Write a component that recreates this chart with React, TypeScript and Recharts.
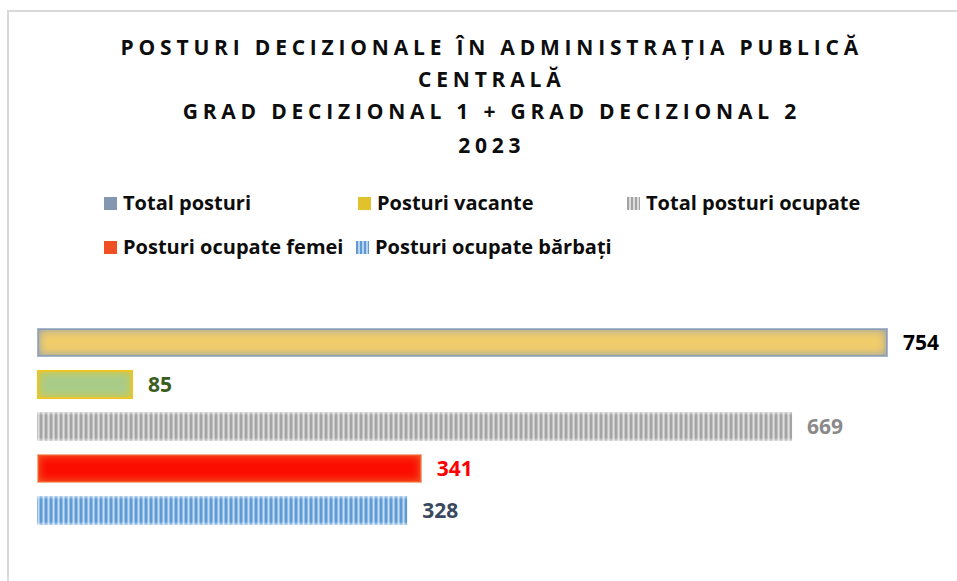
import { BarChart, Bar, XAxis, YAxis, LabelList } from "recharts";

const titleLines = [
  "POSTURI DECIZIONALE ÎN ADMINISTRAȚIA PUBLICĂ",
  "CENTRALĂ",
  "GRAD DECIZIONAL 1 + GRAD DECIZIONAL 2",
  "2023",
];
const categories = ["2023"];
const seriesKeys = ["total", "vacante", "ocupate", "femei", "barbati"];
const seriesNames = [
  "Total posturi",
  "Posturi vacante",
  "Total posturi ocupate",
  "Posturi ocupate femei",
  "Posturi ocupate bărbați",
];
const seriesValues = [754, 85, 669, 341, 328];

const data = categories.map((cat) => {
  const row: Record<string, string | number> = { cat };
  seriesKeys.forEach((k, i) => (row[k] = seriesValues[i]));
  return row;
});

const FONT = "'Open Sans', sans-serif";

// soft-edged bar, like Excel's glow fill
function GlowBar(props: any) {
  const { x, y, width, height, edge, core, stroke } = props;
  if (!width || width <= 0) return null;
  return (
    <g>
      <rect x={x} y={y} width={width} height={height} fill={edge} />
      <rect x={x + 2} y={y + 2} width={width - 4} height={height - 4} fill={core} filter="url(#softEdge)" />
      <rect x={x + 0.5} y={y + 0.5} width={width - 1} height={height - 1} fill="none" stroke={stroke} />
    </g>
  );
}

function StripeBar(props: any) {
  const { x, y, width, height, pattern } = props;
  if (!width || width <= 0) return null;
  return (
    <g>
      <rect x={x} y={y} width={width} height={height} fill={`url(#${pattern})`} />
      <rect x={x} y={y} width={width} height={height} fill="url(#edgeShine)" />
    </g>
  );
}

const styles = [
  { shape: (p: any) => <GlowBar {...p} edge="#8e9fb5" core="#f0cc6a" stroke="#a8b6c9" />, label: "#000000", swatch: "#8497b0" },
  { shape: (p: any) => <GlowBar {...p} edge="#e6c632" core="#a8cc88" stroke="#f0c41c" />, label: "#3b5e1e", swatch: "#e0c22c" },
  { shape: (p: any) => <StripeBar {...p} pattern="grayStripes" />, label: "#8a8a8a", swatch: "repeating-linear-gradient(90deg, #a3a3a3 0 2px, #dcdcdc 2px 4px)" },
  { shape: (p: any) => <GlowBar {...p} edge="#f25a28" core="#fb0a00" stroke="#f7b08f" />, label: "#ff0000", swatch: "#f04e23" },
  { shape: (p: any) => <StripeBar {...p} pattern="blueStripes" />, label: "#3a4a5e", swatch: "repeating-linear-gradient(90deg, #5d9ad6 0 2px, #b8d4ef 2px 4px)" },
];

const legendSpots = [
  { left: 104, top: 191 },
  { left: 358, top: 191 },
  { left: 627, top: 191 },
  { left: 104, top: 235 },
  { left: 356, top: 235 },
];

export default function App() {
  return (
    <div style={{ position: "absolute", left: 0, top: 0, width: 957, height: 581, overflow: "hidden", background: "#fff", fontFamily: FONT }}>
      <div style={{ position: "absolute", left: 7, top: 10, width: 1200, height: 1200, border: "2px solid #d9d9d9" }} />
      {titleLines.map((t, i) => (
        <div
          key={t}
          style={{
            position: "absolute",
            left: 0,
            width: 974,
            top: [35, 67, 99, 133][i],
            textAlign: "center",
            fontSize: 21,
            fontWeight: 700,
            letterSpacing: 4.8,
            paddingLeft: 4.8,
            lineHeight: "24px",
            color: "#0d0d0d",
            whiteSpace: "nowrap",
          }}
        >
          {t}
        </div>
      ))}
      {seriesNames.map((name, i) => (
        <div
          key={name}
          style={{ position: "absolute", left: legendSpots[i].left, top: legendSpots[i].top, display: "flex", alignItems: "center", fontSize: 20, fontWeight: 700, color: "#0d0d0d", lineHeight: "24px", whiteSpace: "nowrap" }}
        >
          <span style={{ display: "inline-block", width: 13, height: 13, background: styles[i].swatch, marginRight: 6 }} />
          {name}
        </div>
      ))}
      <div style={{ position: "absolute", left: 0, top: 0 }}>
        <BarChart
          width={957}
          height={581}
          layout="vertical"
          data={data}
          margin={{ top: 327, right: 69, bottom: 55, left: 37 }}
          barGap={13}
          barCategoryGap={0}
        >
          <defs>
            <filter id="softEdge" x="0" y="0" width="1" height="1">
              <feGaussianBlur stdDeviation="4" />
            </filter>
            <pattern id="grayStripes" patternUnits="userSpaceOnUse" width="5" height="40">
              <rect x="0" y="0" width="5" height="40" fill="#dedede" />
              <rect x="0" y="0" width="2" height="40" fill="#a4a4a4" />
              <rect x="2" y="0" width="1" height="40" fill="#c2c2c2" />
              <rect x="4" y="0" width="1" height="40" fill="#c6c6c6" />
            </pattern>
            <pattern id="blueStripes" patternUnits="userSpaceOnUse" width="5" height="40">
              <rect x="0" y="0" width="5" height="40" fill="#c4dcf1" />
              <rect x="0" y="0" width="2" height="40" fill="#5d9ad6" />
              <rect x="2" y="0" width="1" height="40" fill="#8fbbe6" />
              <rect x="4" y="0" width="1" height="40" fill="#95bfe7" />
            </pattern>
            <linearGradient id="edgeShine" x1="0" y1="0" x2="0" y2="1">
              <stop offset="0" stopColor="#ffffff" stopOpacity={0.55} />
              <stop offset="0.12" stopColor="#ffffff" stopOpacity={0} />
              <stop offset="0.88" stopColor="#ffffff" stopOpacity={0} />
              <stop offset="1" stopColor="#ffffff" stopOpacity={0.55} />
            </linearGradient>
          </defs>
          <XAxis type="number" domain={[0, 754]} hide />
          <YAxis type="category" dataKey="cat" hide />
          {seriesKeys.map((k, i) => (
            <Bar key={k} dataKey={k} name={seriesNames[i]} barSize={29} shape={styles[i].shape} isAnimationActive={false}>
              <LabelList
                dataKey={k}
                position="right"
                offset={15}
                style={{ fontSize: 21, fontWeight: 700, fill: styles[i].label, fontFamily: FONT }}
              />
            </Bar>
          ))}
        </BarChart>
      </div>
    </div>
  );
}
